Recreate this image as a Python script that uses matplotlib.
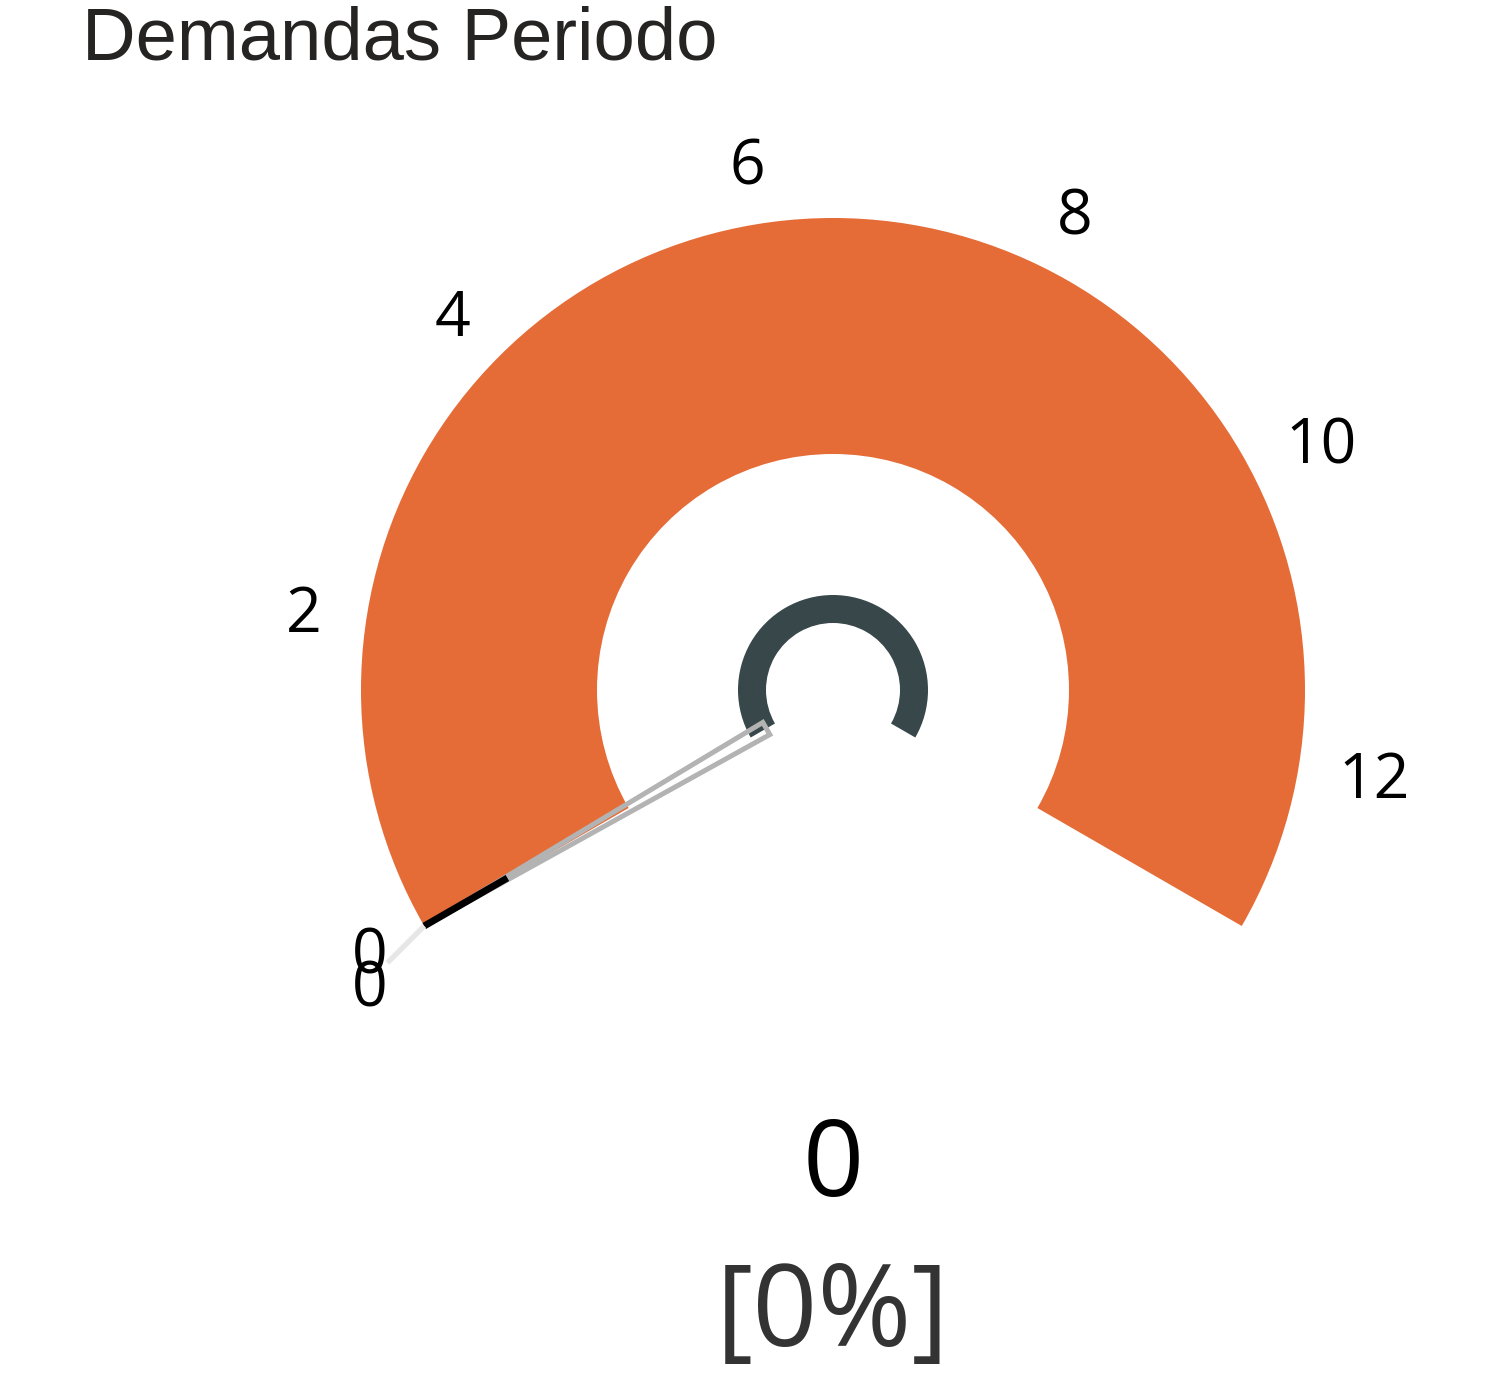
import numpy as np
import matplotlib
matplotlib.use("Agg")
import matplotlib.pyplot as plt
from matplotlib.patches import Wedge, Polygon

# gauge data
TITLE = "Demandas Periodo"
GAUGE_MIN = 0
GAUGE_MAX = 13.3
VALUE = 0
TARGET = 0
TICKS = [0, 2, 4, 6, 8, 10, 12]
VALUE_LABEL = "0"
PERCENT_LABEL = "[0%]"

W, H = 1485, 1373
CX, CY = 833, 690          # gauge centre in pixels
START, SPAN = 210, 240     # degrees
R_OUT, R_IN = 472, 236


def angle_of(v):
    return START - SPAN * (v - GAUGE_MIN) / (GAUGE_MAX - GAUGE_MIN)


def polar(r, a):
    t = np.radians(a)
    return r * np.cos(t), r * np.sin(t)


fig = plt.figure(figsize=(W / 100, H / 100), dpi=100)
ax = fig.add_axes([0, 0, 1, 1])
ax.set_xlim(-CX, W - CX)
ax.set_ylim(CY - H, CY)
ax.set_aspect("equal")
ax.axis("off")

end_angle = angle_of(GAUGE_MAX)

# main band
ax.add_patch(Wedge((0, 0), R_OUT, end_angle, START, width=R_OUT - R_IN,
                   facecolor="#E56C37", edgecolor="none"))

# hub arc
ax.add_patch(Wedge((0, 0), 95, end_angle, START, width=28,
                   facecolor="#37474A", edgecolor="none"))

# needle (outlined thin triangle)
a_val = angle_of(VALUE)
perp = a_val + 90
bx, by = polar(77, a_val)
ox, oy = polar(7, perp)
tx, ty = polar(R_OUT, a_val)
ax.add_patch(Polygon([(bx + ox, by + oy), (tx, ty), (bx - ox, by - oy)], closed=True,
                     facecolor="none", edgecolor="#B3B3B3", linewidth=3.6, joinstyle="miter"))

# target marker
a_t = angle_of(TARGET)
x1, y1 = polar(376, a_t)
x2, y2 = polar(R_OUT, a_t)
ax.plot([x1, x2], [y1, y2], color="black", linewidth=5, solid_capstyle="butt")
dx, dy = polar(52, 225)
ax.plot([x2, x2 + dx], [y2, y2 + dy], color="#E6E6E6", linewidth=3.8, solid_capstyle="butt")

# tick labels
num_font = ["Open Sans", "DejaVu Sans"]
for t in TICKS:
    a = angle_of(t) - (0 if t == GAUGE_MIN else 2.5)
    r = 548 if len(str(t)) > 1 else 535
    lx, ly = polar(r, a)
    ax.text(lx, ly - (0 if t == GAUGE_MIN else 6), str(t), ha="center", va="center",
            fontsize=45, family=num_font, color="black")

# target label
lx, ly = polar(535, a_t)
ax.text(lx, ly - 33, str(TARGET), ha="center", va="center", fontsize=45,
        family=num_font, color="black")

# value and percent
ax.text(0, CY - 1168, VALUE_LABEL, ha="center", va="center", fontsize=77,
        family=num_font, color="black")
ax.text(0, CY - 1316, PERCENT_LABEL, ha="center", va="center", fontsize=82,
        family=num_font, color="#333333")

# title
ax.text(82 - CX, CY - 60, TITLE, ha="left", va="baseline", fontsize=53.5,
        family=["Liberation Sans", "DejaVu Sans"], color="#252423")

fig.savefig("out.png", dpi=100)
